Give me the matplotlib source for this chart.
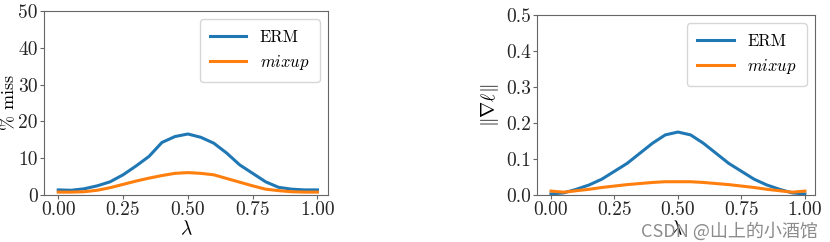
import matplotlib
matplotlib.use("Agg")
import matplotlib.pyplot as plt

# LaTeX-like look
plt.rcParams["font.family"] = ["cmr10", "Noto Sans CJK SC", "DejaVu Sans"]
plt.rcParams["mathtext.fontset"] = "cm"
plt.rcParams["axes.formatter.use_mathtext"] = True
plt.rcParams["font.size"] = 14

lam = [0.00, 0.05, 0.10, 0.15, 0.20, 0.25, 0.30, 0.35, 0.40, 0.45, 0.50,
       0.55, 0.60, 0.65, 0.70, 0.75, 0.80, 0.85, 0.90, 0.95, 1.00]

# % miss
miss_erm = [1.4, 1.3, 1.7, 2.5, 3.6, 5.5, 7.9, 10.5, 14.3, 15.9, 16.6,
            15.7, 14.1, 11.4, 8.2, 5.9, 3.6, 2.1, 1.6, 1.4, 1.4]
miss_mixup = [0.8, 0.8, 0.9, 1.3, 2.0, 2.9, 3.8, 4.6, 5.3, 5.9, 6.1,
              5.9, 5.5, 4.5, 3.5, 2.5, 1.6, 1.2, 0.9, 0.8, 0.8]

# gradient norm
grad_erm = [0.003, 0.006, 0.016, 0.028, 0.044, 0.066, 0.088, 0.116, 0.144, 0.167, 0.175,
            0.167, 0.144, 0.116, 0.088, 0.066, 0.044, 0.028, 0.016, 0.006, 0.003]
grad_mixup = [0.011, 0.008, 0.012, 0.016, 0.021, 0.025, 0.029, 0.032, 0.035, 0.037, 0.037,
              0.037, 0.035, 0.032, 0.029, 0.025, 0.021, 0.016, 0.012, 0.008, 0.011]

xticks = [0.00, 0.25, 0.50, 0.75, 1.00]
miss_ticks = [0, 10, 20, 30, 40, 50]
grad_ticks = [0.0, 0.1, 0.2, 0.3, 0.4, 0.5]

fig = plt.figure(figsize=(8.3, 2.42), dpi=100)
ax1 = fig.add_axes([0.053, 0.194, 0.342, 0.760])
ax2 = fig.add_axes([0.647, 0.194, 0.335, 0.744])

blue = "#1f77b4"
orange = "#ff7f0e"

ax1.plot(lam, miss_erm, color=blue, lw=2.2, label="ERM")
ax1.plot(lam, miss_mixup, color=orange, lw=2.2, label=r"$mixup$")
ax1.set_ylim(0, 50)
ax1.set_yticks(miss_ticks)
ax1.set_yticklabels([str(t) for t in miss_ticks])
ax1.set_ylabel(r"$\%$ miss", fontsize=13)
ax1.yaxis.set_label_coords(-0.093, 0.5)

ax2.plot(lam, grad_erm, color=blue, lw=2.2, label="ERM")
ax2.plot(lam, grad_mixup, color=orange, lw=2.2, label=r"$mixup$")
ax2.set_ylim(0, 0.5)
ax2.set_yticks(grad_ticks)
ax2.set_yticklabels(["%.1f" % t for t in grad_ticks])
ax2.set_ylabel(r"$\|\nabla\ell\|$")
ax2.yaxis.set_label_coords(-0.13, 0.5)

for ax in (ax1, ax2):
    ax.set_xlim(-0.055, 1.04)
    ax.set_xticks(xticks)
    ax.set_xticklabels(["%.2f" % t for t in xticks])
    ax.set_xlabel(r"$\lambda$", labelpad=0)
    for s in ax.spines.values():
        s.set_color("0.4")
    ax.tick_params(colors="0.15", color="0.4", pad=1.5, length=3)
    ax.legend(loc="upper right", fontsize=12, handlelength=2.2,
              handletextpad=0.8, borderpad=0.6)

fig.text(0.985, 0.005, "CSDN @山上的小酒馆", ha="right", va="bottom",
         fontsize=13, color="0.55", family=["Noto Sans CJK SC", "DejaVu Sans"])

fig.savefig("out.png", dpi=100)
